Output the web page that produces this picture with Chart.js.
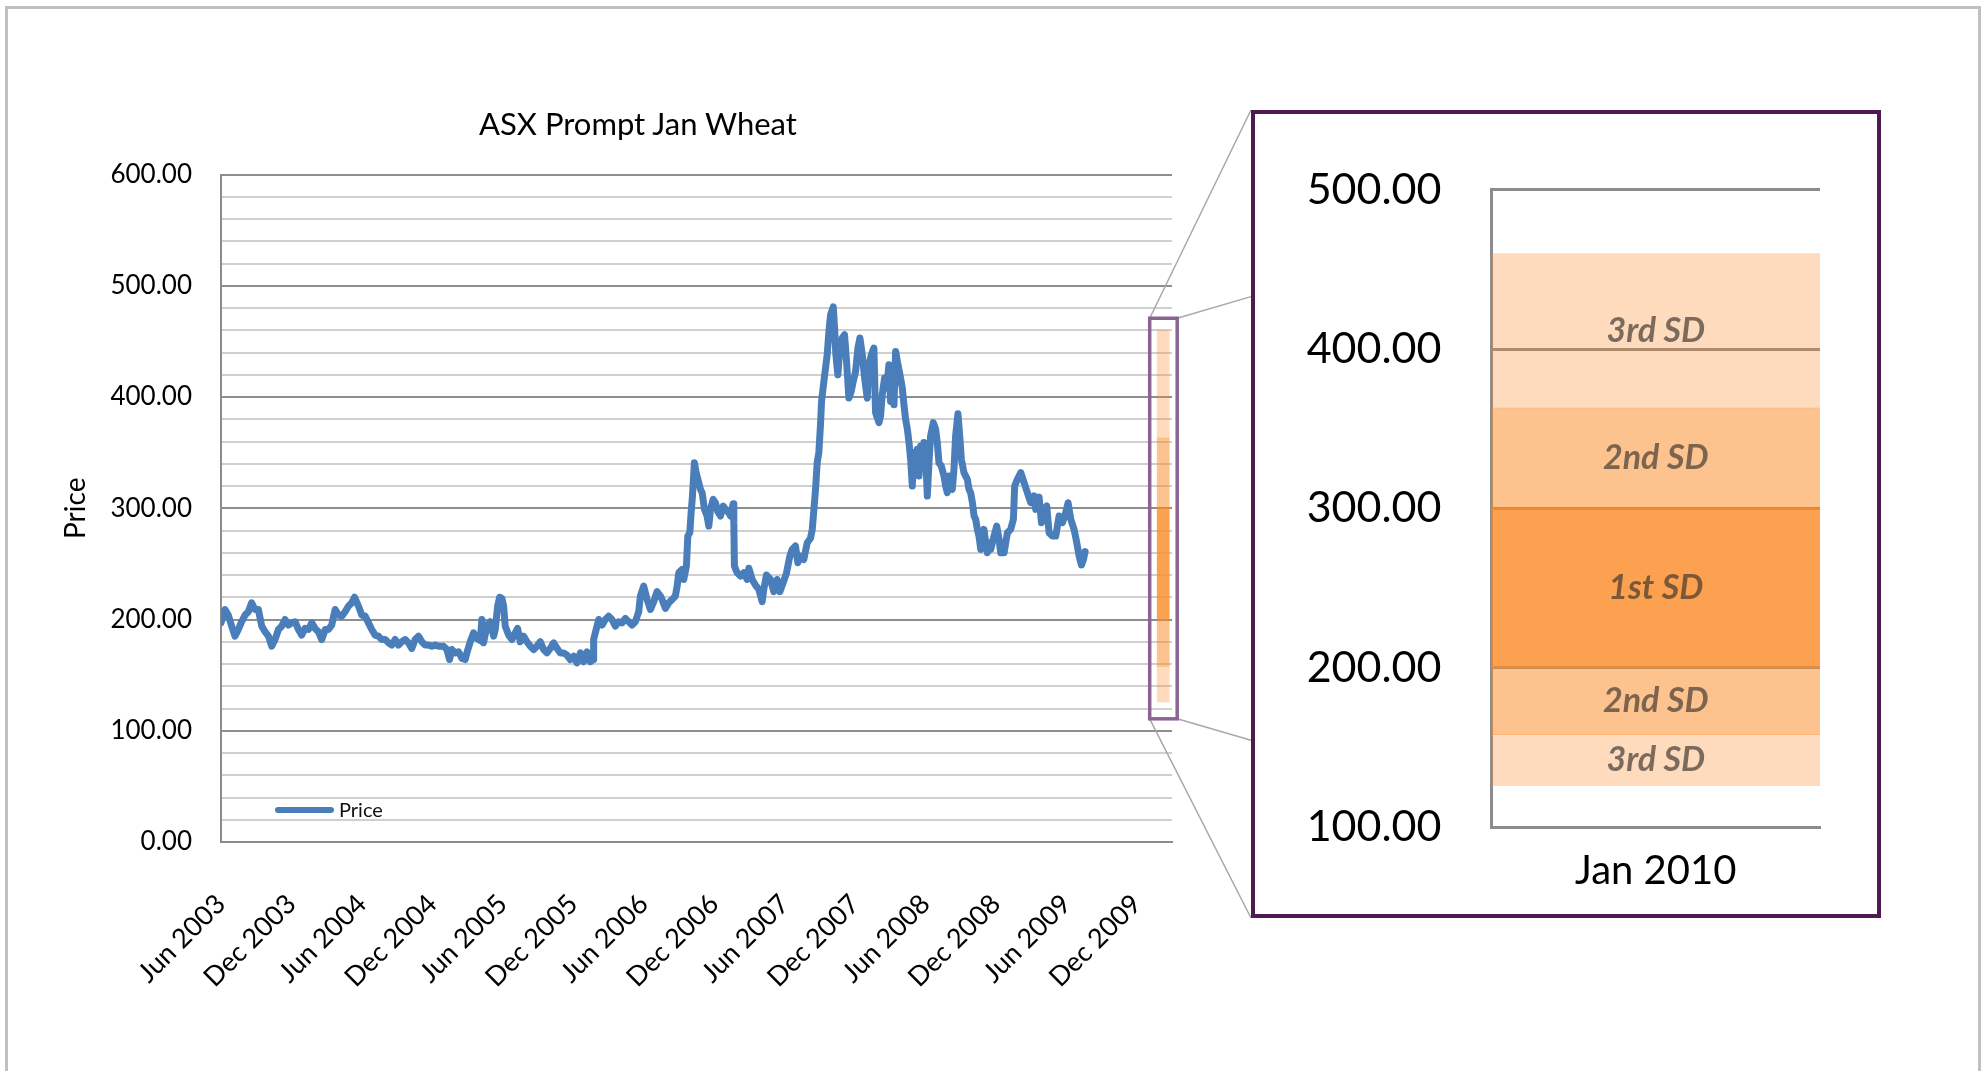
<!DOCTYPE html>
<html>
<head>
<meta charset="utf-8">
<title>ASX Prompt Jan Wheat</title>
<script src="https://cdn.jsdelivr.net/npm/chart.js@4.4.0/dist/chart.umd.min.js"></script>
<style>
  html, body { margin: 0; padding: 0; background: #fff; }
  body { width: 1982px; height: 1071px; position: relative; overflow: hidden; font-family: Lato, 'Open Sans', sans-serif; }
  #sheet { position: absolute; left: 5px; top: 6px; width: 1970px; height: 1100px; border: 3px solid #c0c0c0; }
  #priceChart { position: absolute; left: 0; top: 0; }
  #title { position: absolute; left: 338px; top: 103px; width: 600px; text-align: center; font-size: 31px; line-height: 40px; color: #000; }
  #zoomPanel { position: absolute; left: 1251px; top: 110px; width: 622px; height: 800px; border: 4px solid #4e1a4f; background: #fff; }
  #bandChart { display: block; }
</style>
</head>
<body>
<div id="sheet"></div>
<canvas id="priceChart" width="1255" height="1071"></canvas>
<div id="title">ASX Prompt Jan Wheat</div>
<div id="zoomPanel"><canvas id="bandChart" width="622" height="800"></canvas></div>

<script>
// Prompt Jan wheat price, months counted from Jun 2003
var priceMonths = [
    0.00, 0.34, 0.62, 0.91, 1.19, 1.48, 1.76, 2.05, 2.33, 2.61, 2.90, 3.18, 3.47, 3.75, 4.04, 4.32, 4.60, 4.89, 5.17, 5.46,
    5.74, 6.02, 6.31, 6.59, 6.88, 7.16, 7.45, 7.73, 8.01, 8.30, 8.58, 8.87, 9.15, 9.43, 9.72, 10.00, 10.29, 10.57, 10.86, 11.14,
    11.37, 11.71, 11.99, 12.28, 12.56, 12.84, 13.13, 13.41, 13.70, 13.98, 14.27, 14.55, 14.83, 15.12, 15.40, 15.69, 15.97, 16.25, 16.54, 16.82,
    17.11, 17.39, 17.67, 17.96, 18.24, 18.53,
    18.95, 19.24, 19.47, 19.66, 19.95, 20.23, 20.52, 20.80, 20.94, 21.23, 21.51, 21.80, 22.08, 22.22, 22.36, 22.65, 22.93, 23.22, 23.36, 23.56,
    23.73, 23.93, 24.07, 24.21, 24.50, 24.78, 25.06, 25.26, 25.49, 25.77, 26.06, 26.34, 26.63, 26.91, 27.20, 27.48, 27.76, 28.05, 28.33, 28.62,
    28.90, 29.18, 29.47, 29.75, 30.04, 30.32, 30.61, 30.89, 31.17, 31.46, 31.69, 31.74, 31.88, 32.17, 32.45, 32.74, 33.02, 33.30, 33.59, 33.87,
    34.16, 34.44, 34.73, 35.01, 35.29, 35.58, 35.72, 36.00, 36.29, 36.57, 36.86, 37.14, 37.43,
    37.57, 37.85, 38.14, 38.42, 38.70, 38.85, 38.99, 39.27, 39.41, 39.64, 39.76, 39.93, 40.04, 40.15, 40.32, 40.49, 40.69, 40.84, 40.98, 41.18,
    41.40, 41.55, 41.69, 41.92, 42.11, 42.31, 42.54, 42.77, 42.97, 43.25, 43.39, 43.62, 43.68, 43.73, 43.96, 44.25, 44.53, 44.81, 44.96, 45.24,
    45.52, 45.81, 46.09, 46.23, 46.46, 46.80, 47.09, 47.37, 47.60, 47.88, 48.17, 48.45, 48.65, 48.93, 49.13, 49.36, 49.64, 49.93, 50.21, 50.36,
    50.50, 50.64, 50.78, 50.92, 51.07, 51.15, 51.35, 51.49, 51.63, 51.78, 51.92, 52.15, 52.26, 52.37, 52.54, 52.71, 52.91, 53.11, 53.28, 53.48,
    53.68, 53.85, 54.05, 54.25, 54.42, 54.62, 54.82, 55.04, 55.19, 55.39, 55.61,
    55.75, 56.04, 56.18, 56.32, 56.52, 56.69, 56.89, 57.03, 57.17, 57.32, 57.46, 57.66, 57.83, 58.03, 58.17, 58.31, 58.46, 58.60, 58.74, 58.88,
    59.02, 59.16, 59.31, 59.45, 59.59, 59.73, 59.87, 60.02, 60.16, 60.30, 60.44, 60.67, 60.87, 61.01, 61.15, 61.35, 61.58, 61.72, 61.86, 62.01,
    62.15, 62.29, 62.43, 62.57, 62.77, 62.94, 63.06, 63.28, 63.57, 63.71, 63.85, 64.00, 64.14, 64.28, 64.42, 64.56, 64.71, 64.85, 64.99, 65.13,
    65.27, 65.42, 65.56, 65.84, 66.07, 66.27, 66.41, 66.70, 66.98, 67.26, 67.49, 67.60, 67.83, 68.12, 68.40, 68.68, 68.97, 69.25, 69.39, 69.68,
    69.88, 70.10, 70.33, 70.53, 70.81, 71.10, 71.38, 71.67, 71.95, 72.15, 72.38, 72.66, 72.89, 73.09, 73.29, 73.46, 73.60
];
var priceValues = [
    197, 209, 204, 194, 185, 191, 198, 204, 207, 215, 209, 209, 194, 189, 185, 176, 182, 191, 194, 200,
    195, 197, 198, 191, 186, 192, 191, 197, 192, 189, 182, 191, 191, 195, 209, 204, 203, 207, 212, 215,
    220, 212, 204, 203, 197, 191, 186, 185, 182, 182, 179, 177, 182, 177, 180, 182, 179, 174, 182, 185,
    180, 177, 177, 176, 177, 176,
    176, 173, 164, 173, 170, 171, 165, 164, 170, 180, 188, 183, 181, 200, 179, 194, 198, 185, 191, 212,
    220, 219, 212, 194, 186, 182, 188, 192, 180, 185, 180, 176, 173, 176, 180, 173, 170, 174, 179, 174,
    170, 170, 168, 164, 167, 161, 170, 162, 171, 162, 164, 182, 188, 200, 195, 200, 203, 200, 194, 198,
    197, 201, 198, 195, 198, 207, 221, 230, 218, 209, 216, 225, 221,
    218, 210, 215, 218, 221, 230, 242, 245, 236, 248, 275, 278, 296, 310, 341, 331, 323, 317, 314, 299,
    293, 284, 299, 308, 305, 297, 293, 302, 299, 296, 293, 304, 287, 248, 242, 239, 242, 236, 246, 236,
    231, 227, 216, 227, 240, 236, 225, 236, 225, 233, 242, 257, 263, 266, 251, 257, 254, 269, 273, 281,
    299, 317, 341, 350, 377, 396, 414, 426, 438, 459, 474, 481, 462, 438, 420, 444, 453, 456, 432, 399,
    405, 414, 423, 444, 453, 438, 417, 399, 429, 438, 444,
    386, 377, 383, 402, 417, 408, 429, 396, 423, 393, 441, 429, 420, 408, 393, 380, 371, 359, 344, 320,
    350, 332, 353, 329, 356, 341, 359, 347, 311, 341, 365, 377, 371, 359, 341, 338, 329, 320, 314, 329,
    320, 317, 335, 365, 385, 362, 344, 332, 326, 317, 314, 305, 293, 290, 281, 275, 263, 266, 281, 269,
    260, 269, 263, 275, 284, 272, 260, 260, 278, 281, 290, 320, 326, 332, 323, 314, 305, 311, 299, 310,
    287, 299, 302, 278, 275, 275, 293, 287, 296, 305, 290, 281, 269, 257, 249, 254, 261
];

// half-yearly date ticks
var tickMonths = [0, 6, 12, 18, 24, 30, 36, 42, 48, 54, 60, 66, 72, 78];
var tickLabels = ['Jun 2003', 'Dec 2003', 'Jun 2004', 'Dec 2004', 'Jun 2005', 'Dec 2005', 'Jun 2006',
                  'Dec 2006', 'Jun 2007', 'Dec 2007', 'Jun 2008', 'Dec 2008', 'Jun 2009', 'Dec 2009'];

// Jan 2010 standard deviation bands
var bandCategory = ['Jan 2010'];
var bandMonth = 80.25;
var bandLabels = ['3rd SD', '2nd SD', '1st SD', '2nd SD', '3rd SD'];
var bandLow = [363, 300, 200, 158, 126];
var bandHigh = [460, 363, 300, 200, 158];
var bandColors = ['rgba(250, 140, 40, 0.31)', 'rgba(250, 140, 40, 0.52)', 'rgba(250, 140, 40, 0.82)',
                  'rgba(250, 140, 40, 0.52)', 'rgba(250, 140, 40, 0.31)'];

Chart.defaults.font.family = "Lato, 'Open Sans', sans-serif";

// legend, small band box and the lines out to the zoom panel
var calloutPlugin = {
    id: 'callout',
    afterDraw: function(chart) {
        var ctx = chart.ctx;
        var area = chart.chartArea;
        var x = chart.scales.x, y = chart.scales.y;
        var price = chart.data.datasets[0];

        ctx.save();
        ctx.strokeStyle = price.borderColor;
        ctx.lineWidth = 6;
        ctx.lineCap = 'round';
        ctx.beginPath();
        ctx.moveTo(area.left + 57, area.bottom - 32);
        ctx.lineTo(area.left + 110, area.bottom - 32);
        ctx.stroke();
        ctx.fillStyle = '#111';
        ctx.font = "20px Lato, 'Open Sans', sans-serif";
        ctx.textBaseline = 'middle';
        ctx.fillText(price.label, area.left + 118, area.bottom - 31);

        var cx = x.getPixelForValue(bandMonth);
        var top = y.getPixelForValue(Math.max.apply(null, bandHigh)) - 12;
        var bottom = y.getPixelForValue(Math.min.apply(null, bandLow)) + 17;
        var left = cx - 13.5, right = cx + 14;

        var canvasBox = chart.canvas.getBoundingClientRect();
        var panel = document.getElementById('zoomPanel').getBoundingClientRect();
        var px = panel.left - canvasBox.left;
        var pt = panel.top - canvasBox.top;
        var ph = panel.height;

        ctx.strokeStyle = '#a8a8a8';
        ctx.lineWidth = 1.5;
        ctx.lineCap = 'butt';
        ctx.beginPath();
        ctx.moveTo(left, top); ctx.lineTo(px, pt);
        ctx.moveTo(right, top); ctx.lineTo(px, pt + ph * 0.231);
        ctx.moveTo(right, bottom); ctx.lineTo(px, pt + ph * 0.78);
        ctx.moveTo(left, bottom); ctx.lineTo(px, pt + ph);
        ctx.stroke();

        ctx.strokeStyle = '#8a6592';
        ctx.lineWidth = 3.5;
        ctx.strokeRect(left, top, right - left, bottom - top);
        ctx.restore();
    }
};

var priceChart = new Chart(document.getElementById('priceChart'), {
    type: 'line',
    data: {
        datasets: [{
            label: 'Price',
            data: priceMonths.map(function(m, i) { return {x: m, y: priceValues[i]}; }),
            borderColor: '#4a7ebb',
            borderWidth: 7,
            pointRadius: 0,
            tension: 0,
            borderJoinStyle: 'round',
            borderCapStyle: 'round'
        }].concat(bandLabels.map(function(label, i) {
            return {
                type: 'bar',
                label: label,
                data: [{x: bandMonth, y: [bandLow[i], bandHigh[i]]}],
                backgroundColor: bandColors[i],
                barThickness: 12,
                grouped: false
            };
        }))
    },
    options: {
        responsive: false,
        animation: false,
        devicePixelRatio: 1,
        layout: { padding: { top: 174.5, right: 83, bottom: 0, left: 0 } },
        plugins: { legend: { display: false }, tooltip: { enabled: false } },
        scales: {
            x: {
                type: 'linear',
                min: 0,
                max: 81,
                offset: false,
                afterBuildTicks: function(scale) {
                    scale.ticks = tickMonths.map(function(v) { return {value: v}; });
                },
                afterFit: function(scale) { scale.height = 229; },
                grid: { display: false, offset: false },
                border: { color: '#8c8c8c', width: 2 },
                ticks: {
                    autoSkip: false,
                    minRotation: 45,
                    maxRotation: 45,
                    padding: 38,
                    color: '#000',
                    font: { size: 27 },
                    callback: function(value, index) { return tickLabels[index]; }
                }
            },
            y: {
                min: 0,
                max: 600,
                afterFit: function(scale) { scale.width = 221; },
                grid: {
                    drawTicks: false,
                    lineWidth: 2,
                    color: function(c) {
                        return c.tick && c.tick.value % 100 === 0 ? '#8e8e8e' : '#cfcfcf';
                    }
                },
                border: { color: '#8c8c8c', width: 2 },
                ticks: {
                    stepSize: 20,
                    autoSkip: false,
                    padding: 29,
                    color: '#000',
                    font: { size: 26 },
                    callback: function(value) { return value % 100 === 0 ? value.toFixed(2) : ''; }
                },
                title: {
                    display: true,
                    text: 'Price',
                    color: '#000',
                    font: { size: 28 },
                    padding: { top: 59, bottom: 0 }
                }
            }
        }
    },
    plugins: [calloutPlugin]
});

// "1st SD" etc. written across each band
var bandLabelPlugin = {
    id: 'bandLabels',
    afterDatasetsDraw: function(chart) {
        var ctx = chart.ctx;
        ctx.save();
        ctx.font = "italic bold 34px Lato, 'Open Sans', sans-serif";
        ctx.fillStyle = 'rgba(58, 50, 44, 0.66)';
        ctx.textAlign = 'center';
        ctx.textBaseline = 'middle';
        chart.data.datasets.forEach(function(ds, i) {
            var bar = chart.getDatasetMeta(i).data[0];
            ctx.fillText(ds.label, bar.x, (bar.y + bar.base) / 2);
        });
        ctx.restore();
    }
};

var bandChart = new Chart(document.getElementById('bandChart'), {
    type: 'bar',
    data: {
        labels: bandCategory,
        datasets: bandLabels.map(function(label, i) {
            return {
                label: label,
                data: [[bandLow[i], bandHigh[i]]],
                backgroundColor: bandColors[i],
                grouped: false,
                barPercentage: 1,
                categoryPercentage: 1
            };
        })
    },
    options: {
        responsive: false,
        animation: false,
        devicePixelRatio: 1,
        layout: { padding: { top: 73, right: 57, bottom: 0, left: 0 } },
        plugins: { legend: { display: false }, tooltip: { enabled: false } },
        scales: {
            x: {
                afterFit: function(scale) { scale.height = 87; },
                grid: { display: false },
                border: { color: '#8c8c8c', width: 3 },
                ticks: { padding: 12, color: '#000', font: { size: 40 } }
            },
            y: {
                min: 100,
                max: 500,
                afterFit: function(scale) { scale.width = 236.5; },
                grid: { drawTicks: false, lineWidth: 3, color: '#8c8c8c' },
                border: { color: '#8c8c8c', width: 3 },
                ticks: {
                    stepSize: 100,
                    padding: 50,
                    color: '#000',
                    font: { size: 43 },
                    callback: function(value) { return value.toFixed(2); }
                }
            }
        }
    },
    plugins: [bandLabelPlugin]
});
</script>
</body>
</html>
